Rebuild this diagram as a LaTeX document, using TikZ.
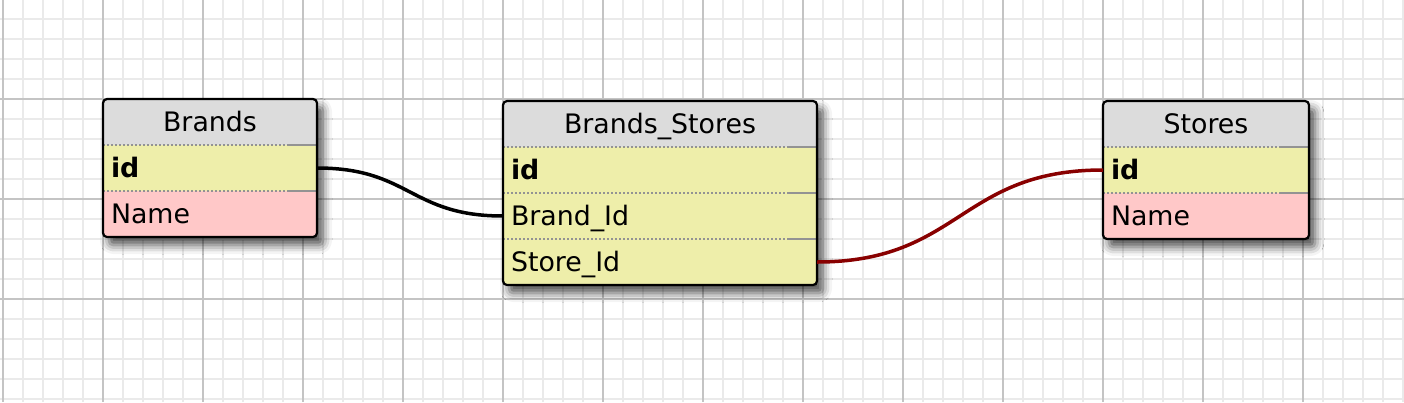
\documentclass[tikz,border=0pt]{standalone}
\usepackage{fontspec}
\setmainfont{DejaVu Sans}
\usetikzlibrary{positioning,shadows.blur}

\definecolor{headgray}{RGB}{220,220,220}
\definecolor{keyyellow}{RGB}{238,238,170}
\definecolor{fieldpink}{RGB}{255,200,200}
\definecolor{linkred}{RGB}{136,0,0}
\definecolor{gridminor}{RGB}{234,234,234}
\definecolor{gridmajor}{RGB}{196,196,196}

\tikzset{
  tablefont/.style={font=\fontsize{26.8}{32}\selectfont},
  cell/.style={tablefont, minimum height=46pt, inner ysep=0pt, inner xsep=8pt,
    outer sep=0pt, text height=19pt, text depth=0pt},
  tablehead/.style={cell, fill=headgray, align=center},
  keyfield/.style={cell, fill=keyyellow, align=left},
  plainfield/.style={cell, fill=fieldpink, align=left},
  sepline/.style={gray!85, line width=1.8pt, dash pattern=on 1.8pt off 2.2pt},
  septail/.style={gray!85, line width=1.8pt},
  tableframe/.style={draw=black, line width=2.2pt, rounded corners=4pt},
  tableshadow/.style={rounded corners=4pt, blur shadow={shadow xshift=6pt,
    shadow yshift=-8pt, shadow blur radius=9pt, shadow opacity=70}},
  relation/.style={line width=3.5pt},
}

\begin{document}
\begin{tikzpicture}[x=1pt, y=-1pt]
  \useasboundingbox (0,0) rectangle (1404,402);

  % Grid paper
  \foreach \x in {3,23,...,1403} \draw[gridminor, line width=1.8pt] (\x,0) -- (\x,402);
  \foreach \y in {19,39,...,399} \draw[gridminor, line width=1.8pt] (0,\y) -- (1404,\y);
  \foreach \x in {3,103,...,1303} \draw[gridmajor, line width=1.8pt] (\x,0) -- (\x,402);
  \foreach \y in {99,199,299} \draw[gridmajor, line width=1.8pt] (0,\y) -- (1404,\y);

  % Table corners
  \coordinate (brands corner) at (103,99);
  \coordinate (bs corner) at (503,101);
  \coordinate (stores corner) at (1103,101);

  % Shadows
  \path[tableshadow] (brands corner) rectangle +(214,138);
  \path[tableshadow] (bs corner) rectangle +(314,184);
  \path[tableshadow] (stores corner) rectangle +(206,138);

  % Brands
  \begin{scope}
    \clip[rounded corners=4pt] (brands corner) rectangle +(214,138);
    \node[tablehead, text width=198pt, anchor=north west] (brands) at (brands corner) {Brands};
    \node[keyfield, text width=198pt, below=0pt of brands] (brands id) {\bfseries id};
    \node[plainfield, text width=198pt, below=0pt of brands id] (brands name) {Name};
  \end{scope}

  % Brands_Stores
  \begin{scope}
    \clip[rounded corners=4pt] (bs corner) rectangle +(314,184);
    \node[tablehead, text width=298pt, anchor=north west] (bs) at (bs corner) {Brands\_Stores};
    \node[keyfield, text width=298pt, below=0pt of bs] (bs id) {\bfseries id};
    \node[keyfield, text width=298pt, below=0pt of bs id] (bs brand) {Brand\_Id};
    \node[keyfield, text width=298pt, below=0pt of bs brand] (bs store) {Store\_Id};
  \end{scope}

  % Stores
  \begin{scope}
    \clip[rounded corners=4pt] (stores corner) rectangle +(206,138);
    \node[tablehead, text width=190pt, anchor=north west] (stores) at (stores corner) {Stores};
    \node[keyfield, text width=190pt, below=0pt of stores] (stores id) {\bfseries id};
    \node[plainfield, text width=190pt, below=0pt of stores id] (stores name) {Name};
  \end{scope}

  % Row separators
  \foreach \r in {brands id, brands name, bs id, bs brand, bs store, stores id, stores name} {
    \draw[sepline] (\r.north west) -- ([xshift=-29pt]\r.north east);
    \draw[septail] ([xshift=-29pt]\r.north east) -- (\r.north east);
  }

  % Frames
  \draw[tableframe] (brands.north west) rectangle (brands name.south east);
  \draw[tableframe] (bs.north west) rectangle (bs store.south east);
  \draw[tableframe] (stores.north west) rectangle (stores name.south east);

  % Relations
  \draw[relation] (brands id.east) .. controls +(93,0) and +(-93,0) .. (bs brand.west);
  \draw[relation, linkred] (bs store.east) .. controls +(143,0) and +(-143,0) .. (stores id.west);
\end{tikzpicture}
\end{document}
